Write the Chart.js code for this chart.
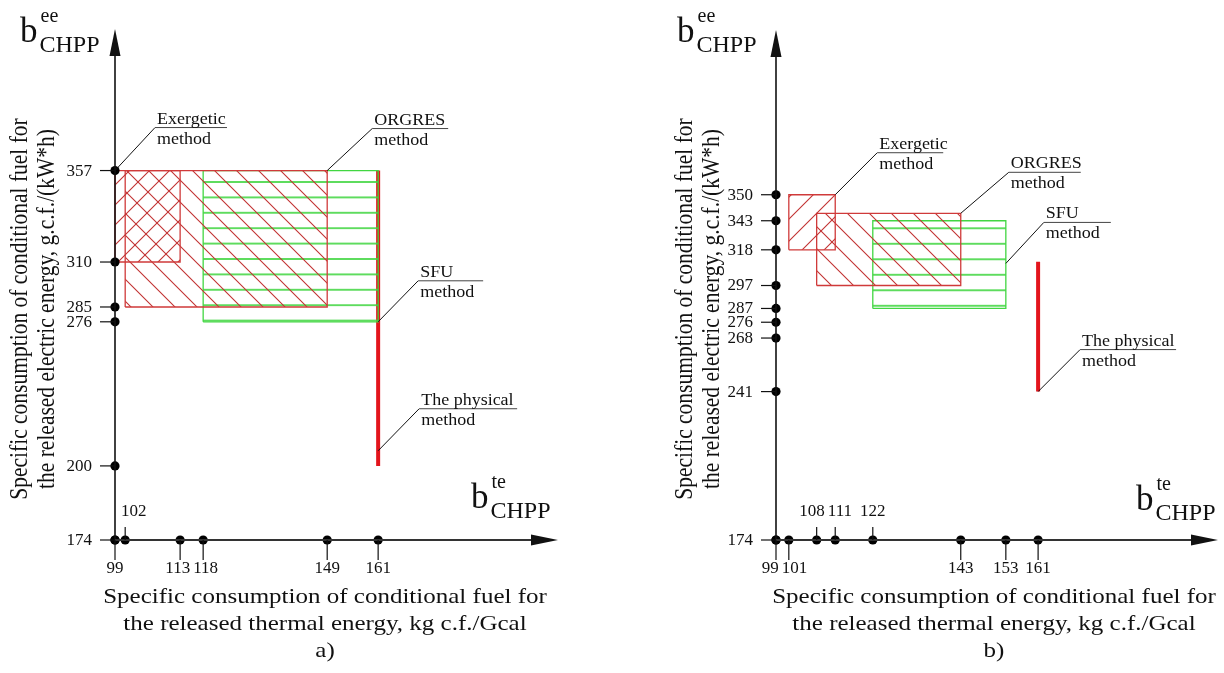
<!DOCTYPE html>
<html>
<head>
<meta charset="utf-8">
<title>Specific fuel consumption by allocation method</title>
<script src="https://cdn.jsdelivr.net/npm/chart.js@4.4.1/dist/chart.umd.min.js"></script>
<style>
    html, body { margin: 0; padding: 0; background: #fff; }
    #wrap { position: relative; width: 1224px; height: 673px; }
    .panel { position: absolute; top: 0; width: 612px; height: 673px; }
</style>
</head>
<body>
<div id="wrap">
    <div class="panel" style="left:0"><canvas id="chartA"></canvas></div>
    <div class="panel" style="left:612px"><canvas id="chartB"></canvas></div>
</div>
<script>
'use strict';

// ── Panel a) ────────────────────────────────────────────────────────────────
var A_X_TICKS       = [99, 102, 113, 118, 149, 161];
var A_X_TICKS_ABOVE = [102];
var A_Y_TICKS       = [174, 200, 276, 285, 310, 357];
var A_EXERGETIC_X = [99, 113],  A_EXERGETIC_Y = [310, 357];
var A_ORGRES_X    = [102, 149], A_ORGRES_Y    = [285, 357];
var A_SFU_X       = [118, 161], A_SFU_Y       = [276, 357];
var A_PHYSICAL_X  = [161, 161], A_PHYSICAL_Y  = [200, 357];

// ── Panel b) ────────────────────────────────────────────────────────────────
var B_X_TICKS       = [99, 101, 108, 111, 122, 143, 153, 161];
var B_X_TICKS_ABOVE = [108, 111, 122];
var B_Y_TICKS       = [174, 241, 268, 276, 287, 297, 318, 343, 350];
var B_EXERGETIC_X = [101, 111], B_EXERGETIC_Y = [318, 350];
var B_ORGRES_X    = [108, 143], B_ORGRES_Y    = [297, 345];
var B_SFU_X       = [122, 153], B_SFU_Y       = [287, 343];
var B_PHYSICAL_X  = [161, 161], B_PHYSICAL_Y  = [241, 311];

// The drawing is a schematic: its axes are not to scale. Each tick value gets
// its own place along the axis (0 = origin, 1 = arrow tip), values between
// two ticks are interpolated.
var A_X_STOPS = [0, 0.023, 0.147, 0.199, 0.479, 0.594];
var A_Y_STOPS = [0, 0.145, 0.427, 0.456, 0.544, 0.723];
var B_X_STOPS = [0, 0.029, 0.092, 0.134, 0.219, 0.418, 0.520, 0.593];
var B_Y_STOPS = [0, 0.291, 0.396, 0.427, 0.454, 0.499, 0.569, 0.626, 0.677];

var SERIF     = '"Liberation Serif", "Times New Roman", serif';
var RED_EDGE  = '#d03a3a';
var RED_HATCH = '#c23333';
var GREEN     = '#42d642';
var PHYS_RED  = '#e3141c';
var INK       = '#111';

var Y_TITLE = ['Specific consumption of conditional fuel for',
               'the released electric energy, g.c.f./(kW*h)'];
var X_TITLE = ['Specific consumption of conditional fuel for',
               'the released thermal energy, kg c.f./Gcal'];

// ── Non-uniform ("schematic") scale ─────────────────────────────────────────

var STOPS = {};   // canvas id -> { x: [[value, decimal]...], y: [...] }

class SchematicScale extends Chart.LinearScale {
    _stops() { return STOPS[this.chart.canvas.id][this.axis]; }
    getPixelForValue(value) {
        var s = this._stops(), i = 1;
        while (i < s.length - 1 && value > s[i][0]) i++;
        var a = s[i - 1], b = s[i];
        var f = a[1] + (value - a[0]) * (b[1] - a[1]) / (b[0] - a[0]);
        return this.getPixelForDecimal(f);
    }
    getValueForPixel(pixel) {
        var f = this.getDecimalForPixel(pixel), s = this._stops(), i = 1;
        while (i < s.length - 1 && f > s[i][1]) i++;
        var a = s[i - 1], b = s[i];
        return a[0] + (f - a[1]) * (b[0] - a[0]) / (b[1] - a[1]);
    }
}
SchematicScale.id = 'schematic';
Chart.register(SchematicScale);

function zip(vals, stops) {
    return vals.map(function (v, i) { return [v, stops[i]]; });
}

// ── Hatch patterns ──────────────────────────────────────────────────────────

function hatch(kind, color, step, offsetY) {
    var c = document.createElement('canvas');
    // size first: resizing a canvas resets its context state
    if (kind === 'flat') { c.width = 8; c.height = 16; }
    else { c.width = step; c.height = step; }
    var g = c.getContext('2d');
    g.strokeStyle = color;
    g.beginPath();
    if (kind === 'flat') {
        g.lineWidth = 1.7;
        g.moveTo(0, 1); g.lineTo(8, 1);
        g.stroke();
        var p = g.createPattern(c, 'repeat');
        p.setTransform(new DOMMatrix().translate(0, offsetY || 0).scale(1, step / 16));
        return p;
    }
    g.lineWidth = 1.1;
    if (kind === 'back') {          // "\"
        g.moveTo(0, 0); g.lineTo(step, step);
        g.moveTo(-2, step - 2); g.lineTo(2, step + 2);
        g.moveTo(step - 2, -2); g.lineTo(step + 2, 2);
    } else {                        // "/"
        g.moveTo(0, step); g.lineTo(step, 0);
        g.moveTo(-2, 2); g.lineTo(2, -2);
        g.moveTo(step - 2, step + 2); g.lineTo(step + 2, step - 2);
    }
    g.stroke();
    return g.createPattern(c, 'repeat');
}

// ── Datasets ────────────────────────────────────────────────────────────────

function rectSet(label, xs, ys, edge, fillStyle, order) {
    return {
        label: label,
        data: [
            { x: xs[0], y: ys[0] }, { x: xs[1], y: ys[0] },
            { x: xs[1], y: ys[1] }, { x: xs[0], y: ys[1] },
            { x: xs[0], y: ys[0] }
        ],
        showLine: true,
        fill: 'shape',
        tension: 0,
        borderColor: edge,
        borderWidth: 1.3,
        backgroundColor: fillStyle,
        pointRadius: 0,
        clip: false,
        order: order
    };
}

function axisDots(xTicks, yTicks) {
    var pts = [];
    yTicks.forEach(function (v) { pts.push({ x: xTicks[0], y: v }); });
    xTicks.forEach(function (v) { pts.push({ x: v, y: yTicks[0] }); });
    return pts;
}

// ── Drawing helpers ─────────────────────────────────────────────────────────

function line(ctx, x1, y1, x2, y2) {
    ctx.beginPath(); ctx.moveTo(x1, y1); ctx.lineTo(x2, y2); ctx.stroke();
}

function text(ctx, str, x, y, size, align, baseline, sy) {
    ctx.save();
    ctx.translate(x, y);
    ctx.scale(1, sy || 1);
    ctx.font = size + 'px ' + SERIF;
    ctx.textAlign = align;
    ctx.textBaseline = baseline;
    ctx.fillStyle = INK;
    ctx.fillText(str, 0, 0);
    ctx.restore();
}

function symbolB(ctx, x, baseline, sup) {
    text(ctx, 'b', x, baseline, 35, 'left', 'alphabetic');
    ctx.font = '35px ' + SERIF;
    var sx = x + ctx.measureText('b').width + 2;
    text(ctx, sup, sx + 1, baseline - 20, 20, 'left', 'alphabetic');
    text(ctx, 'CHPP', sx, baseline + 10, 24, 'left', 'alphabetic');
}

// push apart labels on one line so that they do not overlap;
// nothing may start left of `minLeft`
function spread(items, gap, minLeft) {
    items.sort(function (a, b) { return a.pos - b.pos; });
    for (var pass = 0; pass < 6; pass++) {
        for (var i = 1; i < items.length; i++) {
            var a = items[i - 1], b = items[i];
            var ov = (a.pos + a.len / 2 + gap) - (b.pos - b.len / 2);
            if (ov > 0) { a.pos -= ov / 2; b.pos += ov / 2; }
        }
        if (minLeft !== undefined && items.length && items[0].pos - items[0].len / 2 < minLeft) {
            items[0].pos = minLeft + items[0].len / 2;
        }
    }
    return items;
}

function decor(p) {
    return {
        id: 'decor',
        afterDatasetsDraw: function (chart) {
            var ctx = chart.ctx, xs = chart.scales.x, ys = chart.scales.y, area = chart.chartArea;
            var x0 = xs.getPixelForValue(p.xTicks[0]);
            var y0 = ys.getPixelForValue(p.yTicks[0]);
            ctx.save();

            // axes and arrows
            ctx.strokeStyle = INK;
            ctx.fillStyle = INK;
            ctx.lineWidth = 1.6;
            line(ctx, x0, y0, x0, area.top + 20);
            ctx.strokeStyle = '#333';
            ctx.lineWidth = 1.9;
            line(ctx, x0, y0, area.right - 20, y0);
            ctx.beginPath();
            ctx.moveTo(x0, area.top); ctx.lineTo(x0 - 5.5, area.top + 27); ctx.lineTo(x0 + 5.5, area.top + 27);
            ctx.closePath(); ctx.fill();
            ctx.beginPath();
            ctx.moveTo(area.right, y0); ctx.lineTo(area.right - 27, y0 - 5.5); ctx.lineTo(area.right - 27, y0 + 5.5);
            ctx.closePath(); ctx.fill();

            // y ticks
            ctx.strokeStyle = INK;
            ctx.lineWidth = 1.2;
            ctx.font = '17px ' + SERIF;
            var yItems = p.yTicks.map(function (v) {
                var py = ys.getPixelForValue(v);
                line(ctx, x0 - 15, py, x0, py);
                return { label: String(v), pos: py, len: 12 };
            });
            spread(yItems, 1.5).forEach(function (it) {
                text(ctx, it.label, x0 - 23, it.pos + 0.5, 17, 'right', 'middle');
            });

            // x ticks, most labels below the axis, some above
            var below = [], above = [];
            p.xTicks.forEach(function (v) {
                var px = xs.getPixelForValue(v);
                var up = p.xAbove.indexOf(v) >= 0;
                if (up) line(ctx, px, y0 - 13, px, y0);
                else line(ctx, px, y0, px, y0 + 20);
                (up ? above : below).push({ label: String(v), pos: px, len: ctx.measureText(String(v)).width });
            });
            spread(below, 3).forEach(function (it) { text(ctx, it.label, it.pos, y0 + 29, 17, 'center', 'middle'); });
            spread(above, 3, x0 + 6).forEach(function (it) { text(ctx, it.label, it.pos, y0 - 28, 17, 'center', 'middle'); });

            // callouts: leader line, underline, two lines of text
            p.callouts.forEach(function (c) {
                var ax = xs.getPixelForValue(c.at[0]), ay = ys.getPixelForValue(c.at[1]);
                var ex = ax + c.elbow[0], ey = ay + c.elbow[1];
                ctx.strokeStyle = INK; ctx.lineWidth = 1;
                line(ctx, ax, ay, ex, ey);
                ctx.strokeStyle = '#444';
                line(ctx, ex, ey, ex + c.under, ey);
                text(ctx, c.lines[0], ex + 2, ey - 4, 18, 'left', 'alphabetic', 0.88);
                text(ctx, c.lines[1], ex + 2, ey + 16, 18, 'left', 'alphabetic', 0.88);
            });

            // axis symbols
            symbolB(ctx, p.topB[0], p.topB[1], 'ee');
            symbolB(ctx, p.endB[0], p.endB[1], 'te');

            // y title, rotated
            ctx.font = '25px ' + SERIF;
            ctx.fillStyle = INK;
            Y_TITLE.forEach(function (s, i) {
                ctx.save();
                ctx.translate(p.yTitleX[i], p.yTitleY);
                ctx.rotate(-Math.PI / 2);
                ctx.scale(0.86, 1);
                ctx.textAlign = 'center';
                ctx.textBaseline = 'alphabetic';
                ctx.fillText(s, 0, 0);
                ctx.restore();
            });

            // x title and panel tag
            X_TITLE.concat([p.tag]).forEach(function (s, i) {
                text(ctx, s, p.xTitleX, 603 + i * 27, 25, 'center', 'alphabetic', 0.86);
            });

            ctx.restore();
        }
    };
}

// ── Chart factory ───────────────────────────────────────────────────────────

function makeChart(p) {
    STOPS[p.id] = { x: zip(p.xTicks, p.xStops), y: zip(p.yTicks, p.yStops) };
    var datasets = [
        {
            label: 'The physical method',
            data: [{ x: p.physical[0][0], y: p.physical[1][0] }, { x: p.physical[0][1], y: p.physical[1][1] }],
            showLine: true, borderColor: PHYS_RED, borderWidth: 4, borderCapStyle: 'butt',
            pointRadius: 0, clip: false, order: 5
        },
        rectSet('SFU method', p.sfu[0], p.sfu[1], GREEN, hatch('flat', GREEN, p.flatStep, p.flatOffset), 4),
        rectSet('ORGRES method', p.orgres[0], p.orgres[1], RED_EDGE, hatch('back', RED_HATCH, 22), 3),
        rectSet('Exergetic method', p.exergetic[0], p.exergetic[1], RED_EDGE, hatch('fwd', RED_HATCH, p.fwdStep), 2),
        {
            label: 'ticks',
            data: axisDots(p.xTicks, p.yTicks),
            pointRadius: 4.6, pointBackgroundColor: '#000', pointBorderWidth: 0,
            clip: false, order: 1
        }
    ];

    return new Chart(document.getElementById(p.id).getContext('2d'), {
        type: 'scatter',
        data: { datasets: datasets },
        options: {
            responsive: true,
            maintainAspectRatio: false,
            animation: false,
            events: [],
            layout: { padding: p.padding },
            scales: {
                x: { type: 'schematic', display: false, min: p.xTicks[0], max: 200 },
                y: { type: 'schematic', display: false, min: p.yTicks[0], max: 400 }
            },
            plugins: { legend: { display: false }, tooltip: { enabled: false } }
        },
        plugins: [decor(p)]
    });
}

makeChart({
    id: 'chartA', tag: 'a)',
    xTicks: A_X_TICKS, xStops: A_X_STOPS, xAbove: A_X_TICKS_ABOVE,
    yTicks: A_Y_TICKS, yStops: A_Y_STOPS,
    exergetic: [A_EXERGETIC_X, A_EXERGETIC_Y],
    orgres: [A_ORGRES_X, A_ORGRES_Y],
    sfu: [A_SFU_X, A_SFU_Y],
    physical: [A_PHYSICAL_X, A_PHYSICAL_Y],
    padding: { left: 115, right: 54, top: 29, bottom: 133 },
    flatStep: 15.4, flatOffset: 11.6, fwdStep: 20,
    callouts: [
        { lines: ['Exergetic', 'method'],    at: [99, 357],  elbow: [40, -43], under: 72 },
        { lines: ['ORGRES', 'method'],       at: [149, 357], elbow: [45, -42], under: 76 },
        { lines: ['SFU', 'method'],          at: [161, 276], elbow: [40, -41], under: 65 },
        { lines: ['The physical', 'method'], at: [161, 208], elbow: [41, -42], under: 98 }
    ],
    topB: [20, 42], endB: [471, 508],
    yTitleX: [27, 54], yTitleY: 309, xTitleX: 325
});

makeChart({
    id: 'chartB', tag: 'b)',
    xTicks: B_X_TICKS, xStops: B_X_STOPS, xAbove: B_X_TICKS_ABOVE,
    yTicks: B_Y_TICKS, yStops: B_Y_STOPS,
    exergetic: [B_EXERGETIC_X, B_EXERGETIC_Y],
    orgres: [B_ORGRES_X, B_ORGRES_Y],
    sfu: [B_SFU_X, B_SFU_Y],
    physical: [B_PHYSICAL_X, B_PHYSICAL_Y],
    padding: { left: 164, right: 6, top: 30, bottom: 133 },
    flatStep: 15.5, flatOffset: 10.3, fwdStep: 22,
    callouts: [
        { lines: ['Exergetic', 'method'],    at: [111, 350], elbow: [42, -42], under: 66 },
        { lines: ['ORGRES', 'method'],       at: [143, 345], elbow: [48, -41], under: 72 },
        { lines: ['SFU', 'method'],          at: [153, 310], elbow: [38, -41], under: 67 },
        { lines: ['The physical', 'method'], at: [161, 241], elbow: [42, -42], under: 96 }
    ],
    topB: [65, 42], endB: [524, 510],
    yTitleX: [80, 107], yTitleY: 309, xTitleX: 382
});
</script>
</body>
</html>
